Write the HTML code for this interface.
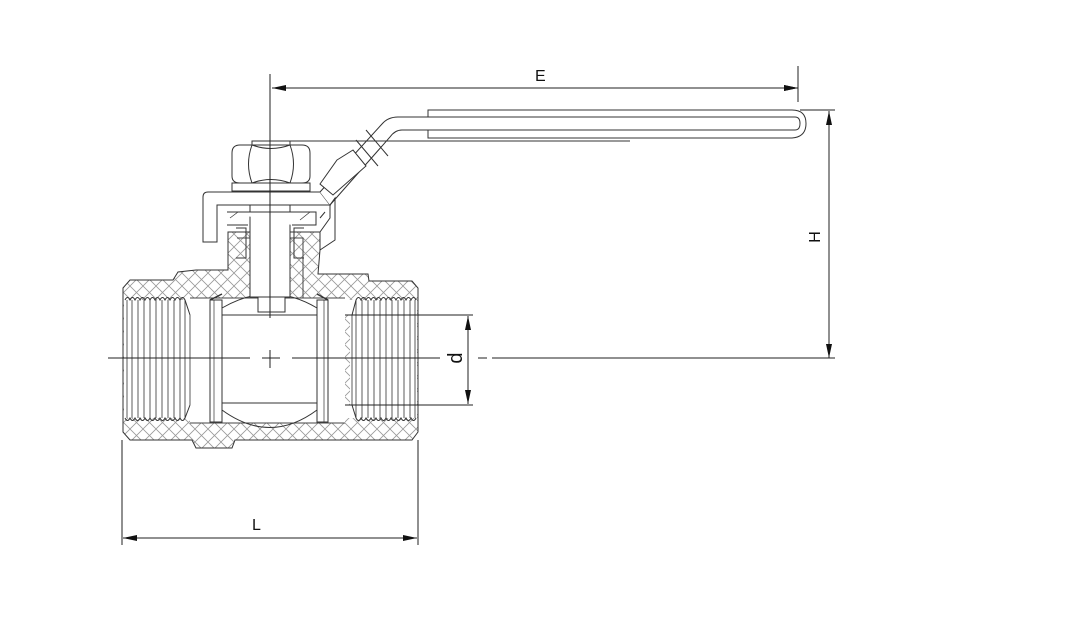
<!DOCTYPE html>
<html><head><meta charset="utf-8"><style>
html,body{margin:0;padding:0;background:#fff;}
svg{display:block;}
text{font-family:"Liberation Sans",sans-serif;font-size:16px;fill:#111;}
</style></head><body>
<svg width="1090" height="631" viewBox="0 0 1090 631" xmlns="http://www.w3.org/2000/svg">
<defs>
<pattern id="hx" patternUnits="userSpaceOnUse" width="13" height="13">
<path d="M0,0 L13,13 M13,0 L0,13" stroke="#999" stroke-width="0.8"/>
</pattern>
<marker id="ar" markerWidth="14" markerHeight="8" refX="14" refY="4" orient="auto" markerUnits="userSpaceOnUse">
<path d="M0,1 L14,4 L0,7 Z" fill="#111"/>
</marker>
</defs>
<g fill="none" stroke="#333" stroke-width="1">
<path d="M123,288 L130,280 L173,280 L178,272 L196,270 L228,270 L228,232 L320,232 L320,250 L318,274 L368,274 L369,281 L412,281 L418,288 L418,432 L412,440 L235,440 L232,448 L196,448 L192,440 L130,440 L123,432 Z" fill="url(#hx)" stroke="#333"/>
<rect x="124" y="300" width="66" height="118" fill="#fff" stroke="none"/>
<rect x="350" y="300" width="67" height="118" fill="#fff" stroke="none"/>
<path d="M185,300 L192,315 L350,315 L350,300 Z M185,418 L192,405 L350,405 L350,418Z" fill="#fff" stroke="none"/>
<path d="M190,298 L345,298 L345,423 L190,423 Z" fill="#fff" stroke="none"/>
<path d="M250,232 L290,232 L290,298 L250,298 Z" fill="#fff" stroke="none"/>
<path d="M237,238 L250,238 L250,298 M290,238 L303,238 L303,298" stroke="#444"/>
<path d="M190,298 L345,298 M190,423 L345,423" stroke="#444"/>
<path d="M125,300 q2.5,-5 5,0 q2.5,-5 5,0 q2.5,-5 5,0 q2.5,-5 5,0 q2.5,-5 5,0 q2.5,-5 5,0 q2.5,-5 5,0 q2.5,-5 5,0 q2.5,-5 5,0 q2.5,-5 5,0 q2.5,-5 5,0 q2.5,-5 5,0 L190,315"/>
<path d="M125,418 q2.5,5 5,0 q2.5,5 5,0 q2.5,5 5,0 q2.5,5 5,0 q2.5,5 5,0 q2.5,5 5,0 q2.5,5 5,0 q2.5,5 5,0 q2.5,5 5,0 q2.5,5 5,0 q2.5,5 5,0 q2.5,5 5,0 L190,405"/>
<path d="M127,300V418 M132,300V418 M138,300V418 M144,300V418 M150,300V418 M156,300V418 M162,300V418 M168,300V418 M174,300V418 M180,300V418 M185,300V418 M190,315V405" stroke-width="0.8"/>
<path d="M352,315 L356,300 q2.5,-5 5,0 q2.5,-5 5,0 q2.5,-5 5,0 q2.5,-5 5,0 q2.5,-5 5,0 q2.5,-5 5,0 q2.5,-5 5,0 q2.5,-5 5,0 q2.5,-5 5,0 q2.5,-5 5,0 q2.5,-5 5,0 q2.5,-5 5,0 L416,300"/>
<path d="M352,405 L356,418 q2.5,5 5,0 q2.5,5 5,0 q2.5,5 5,0 q2.5,5 5,0 q2.5,5 5,0 q2.5,5 5,0 q2.5,5 5,0 q2.5,5 5,0 q2.5,5 5,0 q2.5,5 5,0 q2.5,5 5,0 q2.5,5 5,0 L416,418"/>
<path d="M352,315V405 M356,300V418 M362,300V418 M368,300V418 M374,300V418 M380,300V418 M386,300V418 M392,300V418 M398,300V418 M404,300V418 M410,300V418 M415,300V418" stroke-width="0.8"/>
<rect x="210" y="300" width="12" height="122" fill="#fff"/>
<rect x="317" y="300" width="11" height="122" fill="#fff"/>
<path d="M214,300V422 M324,300V422" stroke-width="0.7"/>
<path d="M222,315 L317,315 M222,403 L317,403"/>
<path d="M222,308 Q270,280 317,308"/>
<path d="M222,410 Q270,445 317,410"/>
<rect x="258" y="296" width="27" height="16" fill="#fff"/>
<path d="M210,300 l12,-6 M317,294 l11,6" stroke-width="1.5"/>
<rect x="250" y="205" width="40" height="92" fill="#fff"/>
<path d="M227,212 L316,212 L316,225 L292,225 M248,225 L227,225 Z" fill="#fff"/>
<path d="M230,218 l8,-6 M300,220 l10,-8" stroke-width="0.7"/>
<path d="M236,228 l10,0 l0,30 l-10,0 M304,228 l-10,0 l0,30 l10,0" />
<path d="M203,242 L203,197 Q203,192 208,192 L320,192 L330,205 L217,205 L217,242 Z" fill="#fff"/>
<rect x="232" y="183" width="78" height="8" fill="#fff"/>
<path d="M252,145 L252,141 L290,141 L290,145"/>
<path d="M240,145 L302,145 Q310,145 310,153 L310,176 Q310,183 302,183 L240,183 Q232,183 232,176 L232,153 Q232,145 240,145 Z" fill="#fff"/>
<path d="M252,145 Q245,164 252,183 M290,145 Q297,164 290,183 M252,145 Q271,152 290,145 M252,183 Q271,176 290,183"/>
<path d="M320,192 L382,124 Q388,117 398,117 L795,117 Q800,117 800,123.5 Q800,130 795,130 L402,130 Q395,130 390,137 L330,205" fill="#fff"/>
<path d="M428,117 L428,110 L792,110 Q806,110 806,123.5 Q806,137 792,138 L428,138 L428,130"/>
<path d="M290,141 L630,141"/>
<path d="M320,218 L325,212 M320,232 L330,218 L330,205 L335,198 L335,240 L320,250" />
<path d="M337,160 L353,150 L366,166 L333,195 L320,184 Z" fill="#fff"/>
<path d="M356,140 L378,166 M366,130 L388,156"/>
<path d="M270,74 L270,318 M270,350 L270,368" stroke="#222"/>
<path d="M108,358 L250,358 M262,358 L280,358 M292,358 L440,358 M478,358 L487,358 M492,358 L835,358" stroke="#222"/>
<path d="M798,88 L272,88" marker-end="url(#ar)" stroke="#222"/>
<path d="M272,88 L798,88" marker-end="url(#ar)" stroke="none"/>
<path d="M798,66 L798,102" stroke="#222"/>
<path d="M800,110 L835,110" stroke="#222"/>
<path d="M829,240 L829,111" marker-end="url(#ar)" stroke="#222"/>
<path d="M829,240 L829,358" marker-end="url(#ar)" stroke="#222"/>
<path d="M345,315 L473,315 M345,405 L473,405" stroke="#222"/>
<path d="M468,360 L468,316" marker-end="url(#ar)" stroke="#222"/>
<path d="M468,360 L468,404" marker-end="url(#ar)" stroke="#222"/>
<path d="M122,440 L122,545 M418,440 L418,545" stroke="#222"/>
<path d="M270,538 L123,538" marker-end="url(#ar)" stroke="#222"/>
<path d="M270,538 L417,538" marker-end="url(#ar)" stroke="#222"/>
</g>
<path d="M798,88 L784,85 L784,91 Z" fill="#111"/>
<text x="535" y="81">E</text>
<text x="252" y="530">L</text>
<text transform="translate(820,237) rotate(-90)" text-anchor="middle">H</text>
<text transform="translate(462,358) rotate(-90)" text-anchor="middle" style="font-size:20px">d</text>
</svg>
</body></html>
